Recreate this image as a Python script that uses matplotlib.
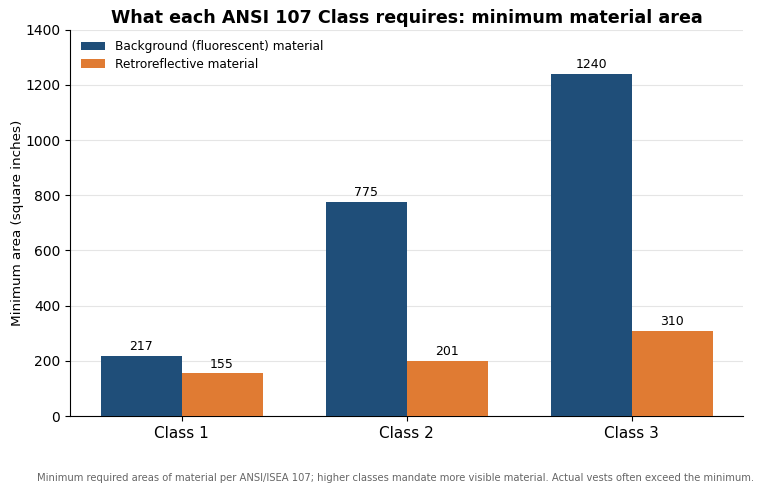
import numpy as np
import matplotlib.pyplot as plt

# Minimum areas per ANSI/ISEA 107 class (square inches)
classes = ['Class 1', 'Class 2', 'Class 3']
background = [217, 775, 1240]
retroreflective = [155, 201, 310]

x = np.arange(len(classes))
width = 0.36

fig, ax = plt.subplots(figsize=(7.68, 4.93), dpi=100)

b1 = ax.bar(x - width / 2, background, width, color='#1f4e79', label='Background (fluorescent) material', zorder=3)
b2 = ax.bar(x + width / 2, retroreflective, width, color='#e07b33', label='Retroreflective material', zorder=3)

# value labels above bars
ax.bar_label(b1, padding=2, fontsize=9)
ax.bar_label(b2, padding=2, fontsize=9)

ax.set_ylim(0, 1400)
ax.set_xticks(x)
ax.set_xticklabels(classes, fontsize=11)
ax.tick_params(axis='y', labelsize=10)
ax.set_ylabel('Minimum area (square inches)', fontsize=9.7, labelpad=1)
ax.set_title('What each ANSI 107 Class requires: minimum material area', fontsize=12.6, fontweight='bold', pad=5)

ax.yaxis.grid(True, color='#e5e5e5', linewidth=0.8, zorder=0)
ax.spines['top'].set_visible(False)
ax.spines['right'].set_visible(False)

ax.legend(loc='upper left', frameon=False, fontsize=8.7, labelspacing=0.35)

fig.text(0.515, 0.025, 'Minimum required areas of material per ANSI/ISEA 107; higher classes mandate more visible material. Actual vests often exceed the minimum.',
         ha='center', fontsize=7.2, color='#666666')

fig.subplots_adjust(left=0.091, right=0.968, top=0.94, bottom=0.156)
fig.savefig('out.png', dpi=100)
